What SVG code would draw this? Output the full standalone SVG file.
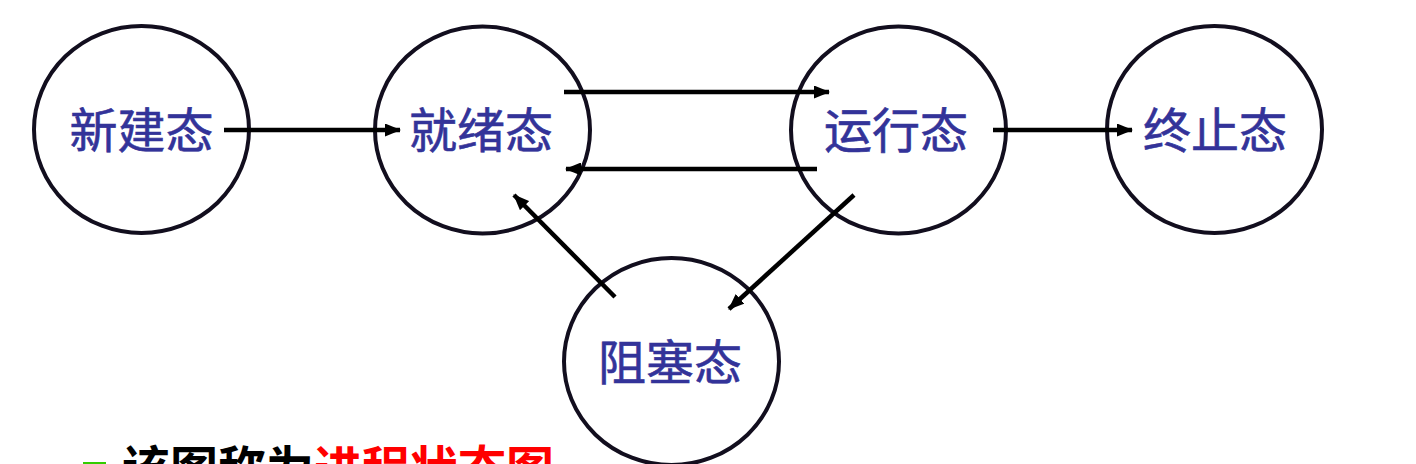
<svg xmlns="http://www.w3.org/2000/svg" width="1416" height="464" viewBox="0 0 1416 464">
<style>
.st{fill:#fff;stroke:#120e1e;stroke-width:4}
.lb{font-family:"Noto Sans CJK SC","Noto Sans",sans-serif;font-size:48px;fill:#333399;text-anchor:middle;stroke:#333399;stroke-width:0.6}
.cn{stroke:#000;stroke-width:4.5;fill:none;marker-end:url(#ah)}
.ft{font-family:"Noto Sans CJK SC","Noto Sans",sans-serif;font-size:48px;font-weight:bold}
</style>
<defs>
<marker id="ah" markerUnits="userSpaceOnUse" viewBox="0 0 16 13" refX="15" refY="6.5" markerWidth="16" markerHeight="13" orient="auto">
<path d="M0,0 L16,6.5 L0,13 Z" fill="#000"/>
</marker>
</defs>
<rect width="1416" height="464" fill="#fff"/>
<g id="n-new"><ellipse class="st" cx="141.5" cy="129.5" rx="107.5" ry="103.5"/><text class="lb" x="141.5" y="148">新建态</text></g>
<g id="n-ready"><ellipse class="st" cx="482.5" cy="130" rx="107.5" ry="103.5"/><text class="lb" x="481" y="148">就绪态</text></g>
<g id="n-run"><ellipse class="st" cx="898.5" cy="130" rx="107.5" ry="103.5"/><text class="lb" x="896" y="148">运行态</text></g>
<g id="n-end"><ellipse class="st" cx="1214.5" cy="129.5" rx="107.5" ry="103.5"/><text class="lb" x="1215" y="148">终止态</text></g>
<g id="n-block"><ellipse class="st" cx="671.5" cy="361.5" rx="107.5" ry="103.5"/><text class="lb" x="670" y="380">阻塞态</text></g>
<g id="connectors">
<line class="cn" x1="224" y1="130" x2="400" y2="130"/>
<line class="cn" x1="564" y1="92" x2="829" y2="92"/>
<line class="cn" x1="817" y1="169" x2="566" y2="169"/>
<line class="cn" x1="993" y1="130" x2="1132" y2="130"/>
<line class="cn" x1="854" y1="195" x2="729" y2="309"/>
<line class="cn" x1="615" y1="297" x2="514" y2="195"/>
</g>
<g id="footer">
<rect x="83" y="462" width="23" height="10" fill="#33cc00"/>
<text class="ft" x="122" y="486"><tspan fill="#000">该图称为</tspan><tspan fill="#ff0000">进程状态图</tspan></text>
</g>
</svg>
